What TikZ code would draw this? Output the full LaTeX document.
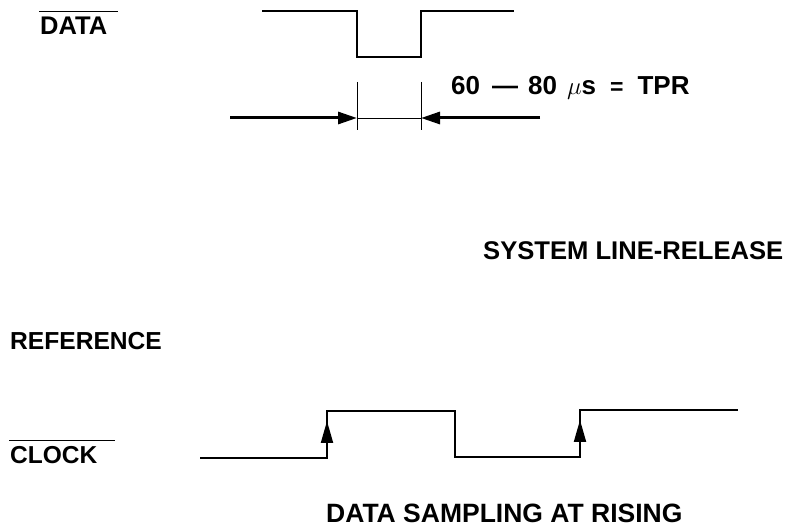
\documentclass[tikz,border=0pt]{standalone}
\usepackage{fontspec}
\setmainfont{Liberation Sans}
\usetikzlibrary{arrows.meta}
\begin{document}
\begin{tikzpicture}[x=1pt,y=-1pt,
  lbl/.style={anchor=base west,inner sep=0pt,font=\fontsize{#1}{#1}\selectfont\bfseries},
  lbl/.default=25,
  wave/.style={line width=2pt,line join=miter},
  thin/.style={line width=0.8pt},
  bar/.style={line width=1pt},
  edgearrow/.style={-{Triangle[length=22pt,width=12pt]},line width=2pt},
  fatarrow/.style={-{Triangle[length=19pt,width=12pt]},line width=3pt}]
\useasboundingbox (0,0) rectangle (788,529);
% labels
\node[lbl=25.5] (data) at (40,35) {DATA};
\draw[bar] (39,12) -- (118,12);
\node[lbl=26] (tpr) at (451,95) {60\hspace{12pt}—\hspace{10pt}80\hspace{10pt}$\mu$s\hspace{14pt}{\fontsize{23}{23}\selectfont =}\hspace{14pt}TPR};
\node[lbl=25.6] (sys) at (483,260) {SYSTEM LINE-RELEASE};
\node[lbl=24.6] (ref) at (10,350) {REFERENCE};
\node[lbl=24.5] (clk) at (10,464) {CLOCK};
\draw[bar] (9,441) -- (115,441);
\node[lbl=26.5] (samp) at (326,522) {DATA SAMPLING AT RISING};
% data waveform
\draw[wave] (262,11) -- (357,11) -- (357,57) -- (421,57) -- (421,11) -- (514,11);
% timing markers
\coordinate (ta) at (357,82);
\coordinate (tb) at (421,82);
\coordinate (ma) at (357,118);
\coordinate (mb) at (421,118);
\coordinate (la) at (230,118);
\coordinate (rb) at (540,118);
\draw[thin] (ta) -- (357,130);
\draw[thin] (tb) -- (421,130);
\draw[thin] (ma) -- (mb);
\draw[fatarrow] (la) -- (ma);
\draw[fatarrow] (rb) -- (mb);
% clock waveform
\draw[wave] (200,458) -- (327,458) -- (327,411) -- (455,411) -- (455,457) -- (580,457) -- (580,410) -- (738,410);
\draw[edgearrow] (327,450) -- (327,421);
\draw[edgearrow] (580,449) -- (580,420);
\end{tikzpicture}
\end{document}
